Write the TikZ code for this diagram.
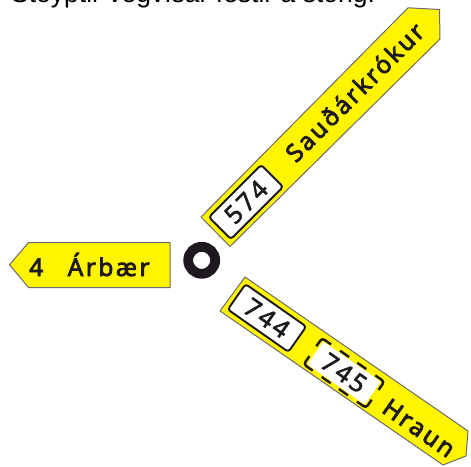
\documentclass[tikz,border=0pt]{standalone}
\usepackage{fontspec}
\setmainfont{Liberation Sans}
\newfontfamily\signwide{Noto Sans}[LetterSpace=10,FakeBold=3]
\newfontfamily\numfont{Noto Sans}[LetterSpace=12,FakeBold=2]
\definecolor{signy}{RGB}{255,245,0}
\definecolor{ink}{RGB}{30,25,30}
\tikzset{
 signplate/.style={fill=signy,draw=ink!65,line width=1pt,line join=round},
 numplate/.style={draw=ink,line width=1.9pt,fill=white,rounded corners=3pt,minimum width=74pt,minimum height=31pt,inner sep=0pt},
 signtxt/.style={font=\signwide\fontsize{24.5}{24}\selectfont,text=ink,inner sep=0pt},
 numtxt/.style={font=\numfont\fontsize{25}{25}\selectfont,text=ink,inner sep=0pt},
}
\begin{document}
\begin{tikzpicture}[x=1pt,y=-1pt]
\clip (0,0) rectangle (471,466);
\useasboundingbox (0,0) rectangle (471,466);
\fill[white] (0,0) rectangle (471,466);
\node[anchor=base west,inner sep=0pt,font=\fontsize{26.5}{26}\selectfont,text=black] (title) at (11,2) {Steyptir vegvísar festir á stöng.};
% left sign
\draw[signplate] (9.5,264.7) -- (28.5,242.5) -- (170,242.5) -- (170,287.5) -- (28.5,287.5) -- cycle;
\node[signtxt,anchor=base west] (num4) at (29,276) {4};
\node[signtxt,anchor=base west] (arbaer) at (67.5,276) {Árbær};
\draw[ink,line width=9.8pt] (201.7,260.3) circle (13.5);
% NE sign
\draw[signplate] (439.5,9.5) -- (408,7.8) -- (201,217) -- (230,246.5) -- (440,39) -- cycle;
\node[numplate,rotate=45] (p574) at (246,202) {};
\node[numtxt,rotate=45] (t574) at (p574) {574};
\node[signtxt,rotate=45] (sau) at (354.5,92) {Sauðárkrókur};
% SE sign
\draw[signplate] (245,277) -- (220,311) -- (443,465) -- (466,456) -- (468,431) -- cycle;
\node[numplate,rotate=-35] (p744) at (267,318) {};
\node[numtxt,rotate=-35] (t744) at (p744) {744};
\coordinate (c745) at (344,373);
\begin{scope}[shift={(c745)},rotate=-35]
 \fill[white,rounded corners=2pt] (-35,-14) rectangle (35,14);
 \begin{scope}[draw=ink,line width=2.4pt,line cap=butt]
  \draw[rounded corners=3pt] (-27,-16) -- (-38,-16) -- (-38,-6);
  \draw[rounded corners=3pt] (27,-16) -- (38,-16) -- (38,-6);
  \draw[rounded corners=3pt] (-27,16) -- (-38,16) -- (-38,6);
  \draw[rounded corners=3pt] (27,16) -- (38,16) -- (38,6);
  \draw (-16,-16) -- (-5,-16) (5,-16) -- (16,-16);
  \draw (-16,16) -- (-5,16) (5,16) -- (16,16);
 \end{scope}
\end{scope}
\node[numtxt,rotate=-35] (t745) at (c745) {745};
\node[signtxt,rotate=-35] (hraun) at (419,428) {Hraun};
\end{tikzpicture}
\end{document}
